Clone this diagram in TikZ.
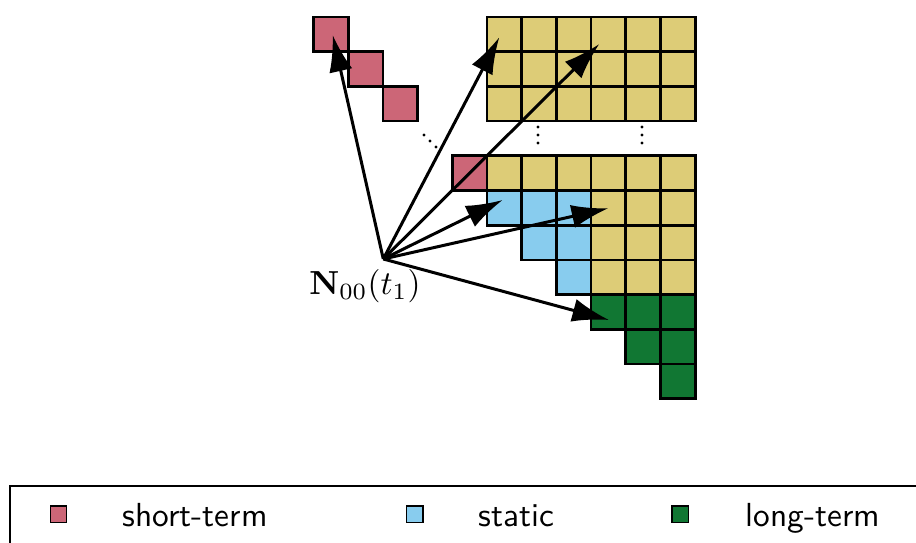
\documentclass[tikz,border=0pt]{standalone}
\usetikzlibrary{arrows.meta}
\definecolor{tolrose}{HTML}{CC6677}
\definecolor{tolsand}{HTML}{DDCC77}
\definecolor{tolcyan}{HTML}{88CCEE}
\definecolor{tolgreen}{HTML}{117733}
\tikzset{
  gridcell/.style={draw=black, line width=0.8pt},
  ptr/.style={line width=0.9pt, -{Latex[length=11pt,width=7pt]}},
  legmark/.style={draw=black, line width=0.4pt, minimum size=5pt, inner sep=0pt},
  legtext/.style={font=\sffamily, anchor=base west, inner sep=0pt},
  dotmark/.style={fill=black, circle, inner sep=0pt, minimum size=1pt}
}
% one cell of the lattice: colour, column, row
\newcommand\cellat[3]{\path[gridcell, fill=#1] ({487+(#2)*34.7},{17+(#3)*34.7}) rectangle ++(34.7,34.7);}
\begin{document}
\begin{tikzpicture}[x=0.3pt, y=-0.3pt]
  \useasboundingbox (0,0) rectangle (916,543);
  \clip (0,0) rectangle (916,543);

  % short-term diagonal
  \cellat{tolrose}{-5}{0}
  \cellat{tolrose}{-4}{1}
  \cellat{tolrose}{-3}{2}
  \cellat{tolrose}{-1}{4}

  % upper block
  \foreach \r in {0,1,2}{
    \foreach \c in {0,...,5}{\cellat{tolsand}{\c}{\r}}
  }

  % lower block
  \foreach \c in {0,...,5}{\cellat{tolsand}{\c}{4}}
  \foreach \c in {0,1,2}{\cellat{tolcyan}{\c}{5}}
  \foreach \c in {1,2}{\cellat{tolcyan}{\c}{6}}
  \cellat{tolcyan}{2}{7}
  \foreach \r in {5,6,7}{
    \foreach \c in {3,4,5}{\cellat{tolsand}{\c}{\r}}
  }
  \foreach \c in {3,4,5}{\cellat{tolgreen}{\c}{8}}
  \foreach \c in {4,5}{\cellat{tolgreen}{\c}{9}}
  \cellat{tolgreen}{5}{10}

  % ellipsis dots
  \node[dotmark] (dd1) at (424,135) {};
  \node[dotmark] (dd2) at (430,141) {};
  \node[dotmark] (dd3) at (436,147) {};
  \foreach \x/\n in {538/a,642/b}{
    \node[dotmark] (v\n1) at (\x,127) {};
    \node[dotmark] (v\n2) at (\x,135) {};
    \node[dotmark] (v\n3) at (\x,143) {};
  }

  % source and targets
  \coordinate (src) at (383.3,259);
  \coordinate (t1) at (332.7,35);
  \coordinate (t2) at (499.3,37.3);
  \coordinate (t3) at (599.3,44);
  \coordinate (t4) at (502.7,200);
  \coordinate (t5) at (608.3,208.3);
  \coordinate (t6) at (609,320);
  \foreach \t in {t1,t2,t3,t4,t5,t6}{
    \draw[ptr] (src) -- (\t);
  }

  \node[anchor=base, inner sep=0pt] (lbl) at (365,295) {$\mathbf{N}_{00}(t_1)$};

  % legend
  \draw[line width=0.6pt] (10,486) rectangle (940,570);
  \node[legmark, fill=tolrose] (m1) at (58.5,514.5) {};
  \node[legtext] (l1) at (122,527) {short-term};
  \node[legmark, fill=tolcyan] (m2) at (414.7,514.5) {};
  \node[legtext] (l2) at (478,527) {static};
  \node[legmark, fill=tolgreen] (m3) at (680.3,514.5) {};
  \node[legtext] (l3) at (745,527) {long-term};
\end{tikzpicture}
\end{document}
